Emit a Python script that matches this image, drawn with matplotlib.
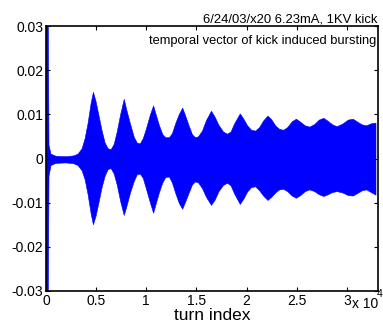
import matplotlib
matplotlib.use("Agg")
import matplotlib.pyplot as plt

# envelope of the kicked beam signal
turns = [0, 200, 300, 500, 1000, 2000, 2800, 3200, 3600, 3900,
         4200, 4500, 4730, 5000, 5300, 5600, 5900, 6200, 6500, 6800,
         7100, 7450, 7800, 8050, 8400, 8800, 9100, 9400, 9700, 10000,
         10400, 10730, 11000, 11300, 11650, 11950, 12300, 12600, 12950, 13300,
         13630, 13900, 14250, 14600, 14900, 15200, 15600, 16000, 16500, 16850,
         17250, 17700, 18100, 18450, 18800, 19370, 19700, 20100, 20500, 20900,
         21300, 21700, 22130, 22500, 22900, 23300, 23700, 24100, 24550, 24970,
         25400, 25850, 26300, 26800, 27250, 27700, 28150, 28600, 29030, 29600,
         30150, 30630, 31100, 31550, 31970, 32500, 32900]
upper = [0.045, 0.045, 0.003, 0.0010, 0.0005, 0.0004, 0.0006, 0.0010, 0.0022, 0.0045,
         0.0080, 0.0125, 0.0150, 0.0128, 0.0095, 0.0062, 0.0035, 0.0022, 0.0020, 0.0032,
         0.0060, 0.0100, 0.0134, 0.0110, 0.0080, 0.0048, 0.0035, 0.0033, 0.0045, 0.0066,
         0.0098, 0.0119, 0.0098, 0.0075, 0.0054, 0.0047, 0.0047, 0.0056, 0.0080, 0.0100,
         0.0114, 0.0098, 0.0075, 0.0054, 0.0047, 0.0049, 0.0062, 0.0086, 0.0107, 0.0094,
         0.0075, 0.0060, 0.0055, 0.0060, 0.0078, 0.0101, 0.0090, 0.0074, 0.0064, 0.0062,
         0.0070, 0.0085, 0.0096, 0.0088, 0.0074, 0.0066, 0.0064, 0.0070, 0.0083, 0.0089,
         0.0082, 0.0074, 0.0071, 0.0077, 0.0087, 0.0091, 0.0084, 0.0076, 0.0072, 0.0078,
         0.0087, 0.0089, 0.0082, 0.0076, 0.0074, 0.0079, 0.0080]
lower = [-0.045, -0.045, -0.004, -0.0016, -0.0011, -0.0010, -0.0012, -0.0016, -0.0028, -0.0048,
         -0.0082, -0.0125, -0.0150, -0.0130, -0.0098, -0.0065, -0.0040, -0.0025, -0.0023, -0.0035,
         -0.0060, -0.0098, -0.0129, -0.0110, -0.0080, -0.0052, -0.0037, -0.0035, -0.0045, -0.0068,
         -0.0100, -0.0124, -0.0102, -0.0078, -0.0055, -0.0043, -0.0042, -0.0055, -0.0080, -0.0102,
         -0.0115, -0.0100, -0.0080, -0.0060, -0.0053, -0.0055, -0.0068, -0.0088, -0.0106, -0.0095,
         -0.0075, -0.0061, -0.0056, -0.0062, -0.0080, -0.0104, -0.0093, -0.0076, -0.0066, -0.0064,
         -0.0073, -0.0085, -0.0095, -0.0088, -0.0078, -0.0071, -0.0070, -0.0075, -0.0085, -0.0090,
         -0.0084, -0.0075, -0.0071, -0.0075, -0.0082, -0.0086, -0.0082, -0.0077, -0.0075, -0.0078,
         -0.0084, -0.0085, -0.0079, -0.0073, -0.0071, -0.0078, -0.0083]

xticks = [0, 5000, 10000, 15000, 20000, 25000, 30000]
xticklabels = ["0", "0.5", "1", "1.5", "2", "2.5", "3"]
yticks = [-0.03, -0.02, -0.01, 0, 0.01, 0.02, 0.03]
yticklabels = ["-0.03", "-0.02", "-0.01", "0", "0.01", "0.02", "0.03"]

plt.rcParams["font.family"] = ["Liberation Sans", "DejaVu Sans"]

fig = plt.figure(figsize=(3.83, 3.22), dpi=100)
ax = fig.add_axes([46 / 383, 1 - 291 / 322, 332 / 383, 265 / 322])

ax.fill_between(turns, lower, upper, color="#0000ff", linewidth=0.4, edgecolor="#0000ff")

ax.set_xlim(0, 33100)
ax.set_ylim(-0.03, 0.03)
ax.set_xticks(xticks)
ax.set_xticklabels(xticklabels, fontsize=10)
ax.set_yticks(yticks)
ax.set_yticklabels(yticklabels, fontsize=10)
ax.tick_params(direction="in", top=True, right=True, length=3, width=0.8, pad=2)
for s in ax.spines.values():
    s.set_linewidth(1.2)

ax.set_xlabel("turn index", fontsize=12.5, labelpad=0)
# exponent label of the x axis, placed like the reference
fig.text(352 / 383, 1 - 308 / 322, "x 10", fontsize=10, ha="left", va="baseline")
fig.text(376.5 / 383, 1 - 297 / 322, "4", fontsize=7.5, ha="left", va="baseline")

fig.text(377 / 383, 1 - 22 / 322, "6/24/03/x20 6.23mA, 1KV kick", fontsize=9.4,
         ha="right", va="baseline")
ax.text(0.995, 0.945, "temporal vector of kick induced bursting", fontsize=9.3,
        ha="right", va="center", transform=ax.transAxes)

fig.savefig("out.png", dpi=100)
